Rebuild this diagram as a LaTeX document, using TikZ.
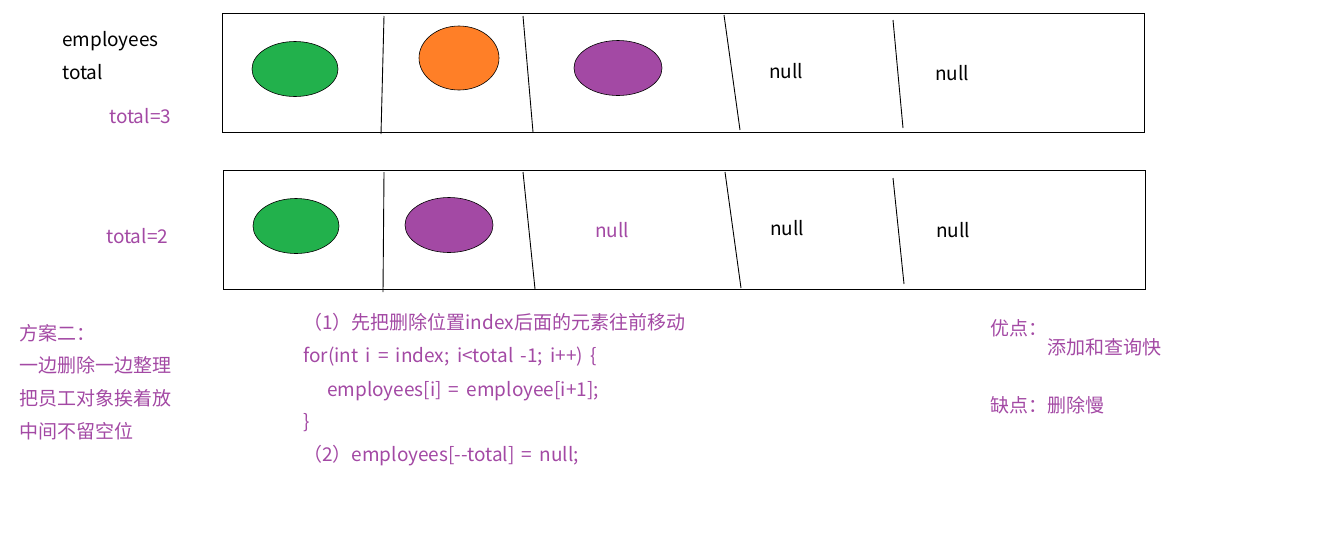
\documentclass[tikz,border=0pt]{standalone}
\usepackage{fontspec}
\setmainfont[WordSpace=1.7]{Noto Sans CJK SC}
\usetikzlibrary{shapes.geometric}
\definecolor{paintpurple}{RGB}{163,73,164}
\definecolor{paintgreen}{RGB}{34,177,76}
\definecolor{paintorange}{RGB}{255,127,39}
\tikzset{
      slot/.style={draw=black, line width=0.9},
      divider/.style={draw=black, line width=0.9},
      ball/.style={ellipse, draw=black, line width=0.6, inner sep=0, minimum width=86, minimum height=55},
      txt/.style={anchor=base west, inner sep=0, font=\fontsize{19}{23}\selectfont},
      note/.style={txt, text=paintpurple},
}

\begin{document}
\begin{tikzpicture}[x=1pt, y=-1pt]
        \useasboundingbox (0,0) rectangle (1329,547);

        % Draw the first array (total=3)
        \draw[slot] (222,13) rectangle (1144,132);
        \draw[divider] (384,16) -- (381,134);
        \draw[divider] (523,16) -- (533,132);
        \draw[divider] (724,15) -- (740,130);
        \draw[divider] (893,20) -- (903,128);

        \node[ball, fill=paintgreen] (a0) at (295,69) {};
        \node[ball, fill=paintorange, minimum width=80, minimum height=64] (a1) at (459,58) {};
        \node[ball, fill=paintpurple, minimum width=88] (a2) at (618,68) {};
        \node[txt] (a3) at (769,78) {null};
        \node[txt] (a4) at (935,80) {null};

        \node[txt] (emp) at (62,46) {employees};
        \node[txt] (tot) at (62,79) {total};
        \node[note] (tot3) at (109,123) {total=3};

        % Draw the second array (total=2)
        \draw[slot] (223,170) rectangle (1145,289);
        \draw[divider] (384,172) -- (383,292);
        \draw[divider] (523,172) -- (535,289);
        \draw[divider] (725,172) -- (741,288);
        \draw[divider] (893,178) -- (904,284);

        \node[ball, fill=paintgreen] (b0) at (296,226) {};
        \node[ball, fill=paintpurple, minimum width=88] (b1) at (449,225) {};
        \node[note] (b2) at (595,237) {null};
        \node[txt] (b3) at (770,235) {null};
        \node[txt] (b4) at (936,237) {null};

        \node[note] (tot2) at (106,243) {total=2};

        % Draw the notes
        \node[note] (plan) at (19,340) {方案二：};
        \node[note] (plan1) at (19,372) {一边删除一边整理};
        \node[note] (plan2) at (19,405) {把员工对象挨着放};
        \node[note] (plan3) at (19,438) {中间不留空位};

        \node[note] (step1) at (303,329) {（1）先把删除位置index后面的元素往前移动};
        \node[note] (code1) at (303,362) {for(int i = index; i<total -1; i++) \{};
        \node[note] (code2) at (327,396) {employees[i] = employee[i+1];};
        \node[note] (code3) at (303,428) {\}};
        \node[note] (step2) at (303,461) {（2）employees[-{}-total] = null;};

        \node[note] (pro) at (990,335) {优点：};
        \node[note] (pro1) at (1047,354) {添加和查询快};
        \node[note] (con) at (990,412) {缺点：删除慢};

\end{tikzpicture}
\end{document}
